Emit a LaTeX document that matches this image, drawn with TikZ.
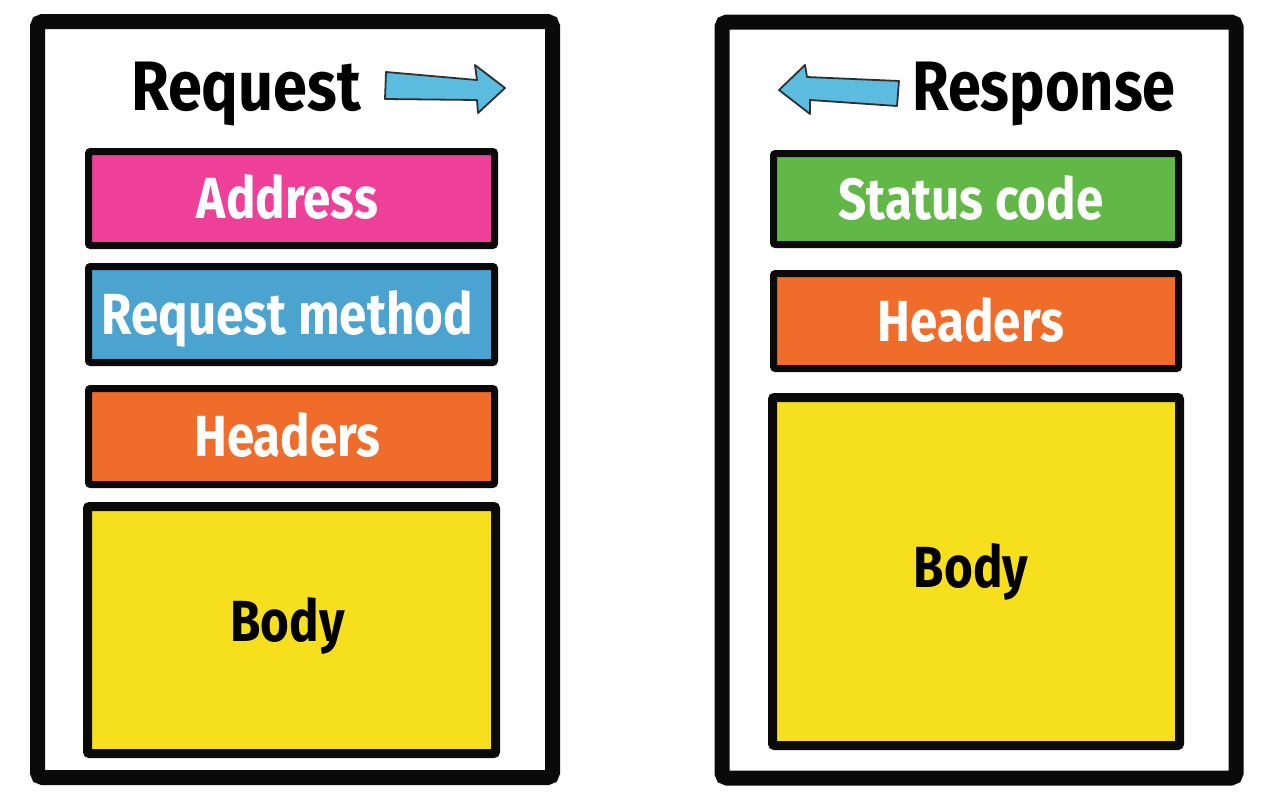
\documentclass[tikz,border=0pt]{standalone}
\usepackage{fontspec}
\newfontfamily\cfont{Fira Sans}[FakeStretch=0.85]
\definecolor{cpink}{HTML}{EE4098}
\definecolor{cblue}{HTML}{4BA3CF}
\definecolor{corange}{HTML}{EF6C2A}
\definecolor{cyellow}{HTML}{F6E01D}
\definecolor{cgreen}{HTML}{62B847}
\definecolor{carrow}{HTML}{5BBCE0}
\definecolor{cink}{HTML}{0A0A0A}
\newcommand{\shiftl}[1]{\kern-#1pt}
\tikzset{
  frame/.style={draw=cink, line width=15pt, rounded corners=5pt},
  field/.style={draw=cink, line width=7pt, rounded corners=2pt, inner sep=0pt,
    text=white, font=\cfont\bfseries\fontsize{58}{60}\selectfont,
    text height=40pt, text depth=0pt},
  bodybox/.style={field, fill=cyellow, line width=9pt, text=black},
  title/.style={font=\cfont\bfseries\fontsize{70}{72}\selectfont, text=black,
    inner sep=0pt, text height=48pt, text depth=0pt},
  arrowshape/.style={draw=cink!85, fill=carrow, line width=1.8pt, line join=round}
}
\begin{document}
\begin{tikzpicture}[x=1pt, y=-1pt]
\useasboundingbox (0,0) rectangle (1268,804);
% frames
\draw[frame] (37.5,21.5) rectangle (552.5,777.5);
\draw[frame] (722,22) rectangle (1236,778);
% titles
\node[title, xscale=1.03] (reqT) at (246,86) {Request};
\node[title] (resT) at (1044,86) {Response};
% arrows
\draw[arrowshape] (386,72) -- (477,80) -- (475,65) -- (505,88) -- (478,113) -- (477,100) -- (385,99) -- cycle;
\draw[arrowshape] (779,90) -- (805,65) -- (807,77) -- (899,81) -- (897,106) -- (810,100) -- (810,114) -- cycle;
% request fields
\node[field, fill=cpink, minimum width=406pt, minimum height=94pt] (addr) at (291.5,198.5) {\shiftl{8}Address};
\node[field, fill=cblue, minimum width=406pt, minimum height=96pt] (meth) at (291.5,314.5) {\shiftl{8}Request method};
\node[field, fill=corange, minimum width=406pt, minimum height=96pt] (hdrL) at (291.5,436.5) {\shiftl{8}Headers};
\node[bodybox, minimum width=408pt, minimum height=247pt] (bodyL) at (291.5,630) {\shiftl{8}\raisebox{9pt}{Body}};
% response fields
\node[field, fill=cgreen, minimum width=405pt, minimum height=91pt] (stat) at (976,199) {\shiftl{10}Status code};
\node[field, fill=corange, minimum width=405pt, minimum height=95pt] (hdrR) at (976,321) {\shiftl{10}Headers};
\node[bodybox, minimum width=407pt, minimum height=348pt] (bodyR) at (976,571.5) {\shiftl{10}\raisebox{4pt}{Body}};
\end{tikzpicture}
\end{document}
